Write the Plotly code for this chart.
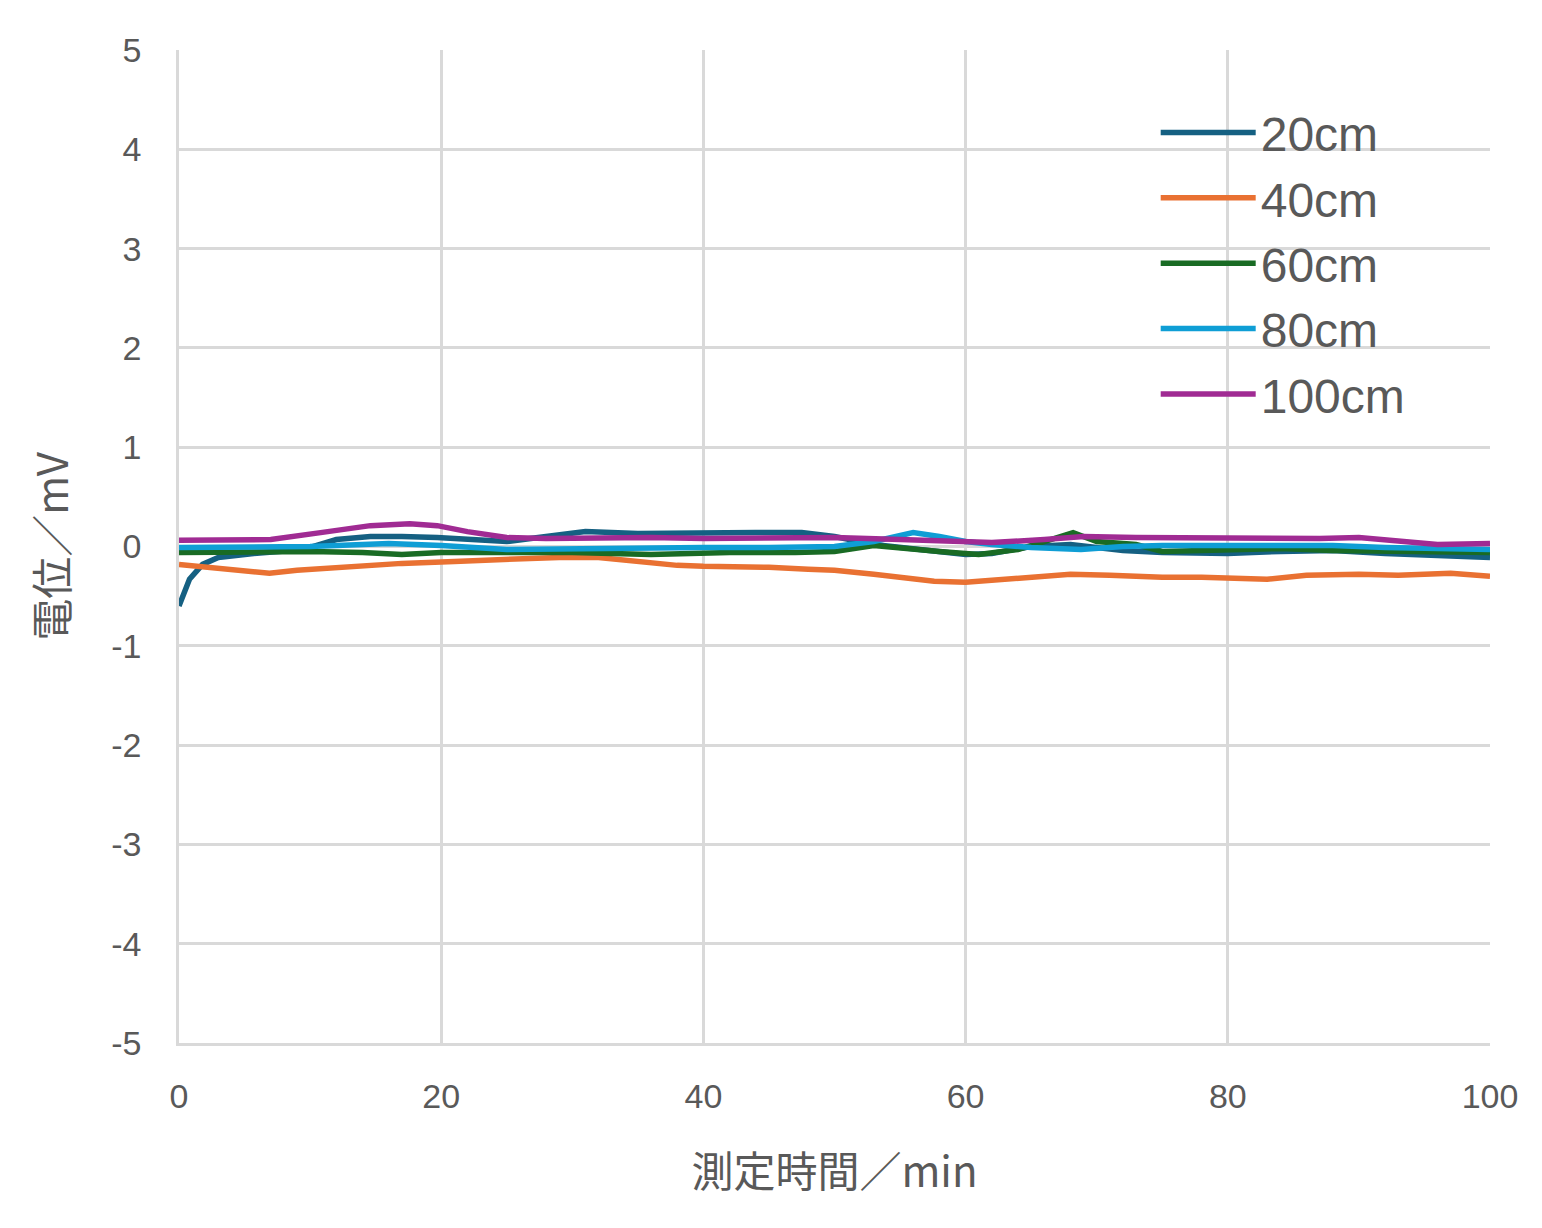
import plotly.graph_objects as go

# values (time in min, potential in mV)
t_20 = [0, 0.8, 1.8, 3, 5.7, 9.5, 12, 14.6, 17, 19.7, 25, 28, 31, 35, 40, 44, 47.5, 50,
        53, 57, 60, 62, 65, 68, 72, 75, 78, 80, 84, 88, 92, 96, 100]
v_20 = [-0.60, -0.33, -0.18, -0.11, -0.07, -0.03, 0.07, 0.10, 0.10, 0.09, 0.05, 0.10, 0.15,
        0.13, 0.14, 0.14, 0.14, 0.10, 0.02, -0.04, -0.08, -0.07, 0.00, 0.02, -0.04, -0.06,
        -0.07, -0.07, -0.05, -0.04, -0.07, -0.09, -0.11]

t_40 = [0, 1.8, 4, 6.9, 9, 12, 17, 21, 25, 29, 32, 35, 38, 40, 45, 48, 50, 53, 57.6, 60,
        62, 65, 68, 71, 75, 78, 81, 83, 86, 90, 93, 97, 100]
v_40 = [-0.18, -0.20, -0.23, -0.27, -0.24, -0.21, -0.17, -0.15, -0.13, -0.11, -0.11, -0.15,
        -0.19, -0.20, -0.21, -0.23, -0.24, -0.28, -0.35, -0.36, -0.34, -0.31, -0.28, -0.29,
        -0.31, -0.31, -0.33, -0.33, -0.29, -0.28, -0.29, -0.27, -0.30]

t_60 = [0, 5, 10, 14, 17, 20, 25, 30, 36, 42, 47, 50, 53, 56, 58, 61, 64, 66, 68.2, 70,
        73, 75, 79, 84, 88, 92, 96, 100]
v_60 = [-0.06, -0.05, -0.05, -0.06, -0.08, -0.06, -0.06, -0.06, -0.08, -0.06, -0.06, -0.05,
        0.01, -0.03, -0.05, -0.08, -0.03, 0.05, 0.14, 0.05, 0.02, -0.05, -0.04, -0.02, -0.04,
        -0.05, -0.06, -0.06]

t_80 = [0, 5, 10, 16, 20, 25, 30, 35, 40, 45, 50, 53, 56, 58, 60, 62, 65, 68.8, 72, 75,
        80, 85, 88, 92, 96, 100]
v_80 = [-0.01, -0.01, 0.00, 0.03, 0.01, -0.03, -0.02, -0.02, -0.01, -0.01, 0.00, 0.05, 0.14,
        0.10, 0.05, 0.02, -0.01, -0.03, 0.00, 0.01, 0.01, 0.01, 0.01, -0.01, -0.02, -0.03]

t_100 = [0, 4, 7, 10.8, 14.6, 17.6, 19.7, 22, 25, 28, 32, 36, 40, 45, 50, 55, 60, 62, 66,
         69, 73, 77, 82, 87, 90, 93, 96, 100]
v_100 = [0.063, 0.06, 0.07, 0.14, 0.21, 0.23, 0.21, 0.15, 0.09, 0.08, 0.085, 0.09, 0.08,
         0.08, 0.09, 0.07, 0.05, 0.04, 0.07, 0.10, 0.09, 0.085, 0.08, 0.08, 0.09, 0.06, 0.02,
         0.03]

series = [
    ("20cm", t_20, v_20, "#156082"),
    ("40cm", t_40, v_40, "#E97132"),
    ("60cm", t_60, v_60, "#196B24"),
    ("80cm", t_80, v_80, "#0F9ED5"),
    ("100cm", t_100, v_100, "#A02B93"),
]

fig = go.Figure()
for name, t, v, color in series:
    fig.add_trace(
        go.Scatter(
            x=t,
            y=v,
            mode="lines",
            name=name,
            line=dict(color=color, width=5.5),
        )
    )

font_main = "Liberation Sans, Noto Sans CJK JP, sans-serif"
grid = "#d9d9d9"

# the page body has an 8px margin, so the figure is a little smaller than the window
fig.update_layout(
    width=1534,
    height=1220,
    plot_bgcolor="white",
    paper_bgcolor="white",
    margin=dict(l=171, r=52, t=42, b=185),
    font=dict(family=font_main, color="#595959", size=34),
    legend=dict(
        x=0.745,
        y=0.955,
        xanchor="left",
        yanchor="top",
        bgcolor="rgba(0,0,0,0)",
        font=dict(size=48, color="#595959"),
        itemwidth=95,
        tracegroupgap=0,
    ),
    xaxis=dict(
        range=[0, 100],
        tickvals=[0, 20, 40, 60, 80, 100],
        showgrid=True,
        gridcolor=grid,
        gridwidth=2.5,
        zeroline=False,
        showline=True,
        linecolor=grid,
        linewidth=2.5,
        ticks="",
        tickfont=dict(size=34),
        ticklabelstandoff=21,
        title=dict(
            text="測定時間／min",
            font=dict(size=42, family="Noto Sans CJK JP, sans-serif"),
            standoff=45,
        ),
    ),
    yaxis=dict(
        range=[-5, 5],
        tickvals=[-5, -4, -3, -2, -1, 0, 1, 2, 3, 4, 5],
        ticktext=["-5", "-4", "-3", "-2", "-1", "0", "1", "2", "3", "4", "5"],
        showgrid=True,
        gridcolor=grid,
        gridwidth=2.5,
        zeroline=False,
        showline=True,
        linecolor=grid,
        linewidth=2.5,
        ticks="",
        tickfont=dict(size=34),
        ticklabelstandoff=28,
        title=dict(
            text="電位／mV",
            font=dict(size=42, family="Noto Sans CJK JP, sans-serif"),
            standoff=30,
        ),
    ),
)

fig.write_html("out.html")
